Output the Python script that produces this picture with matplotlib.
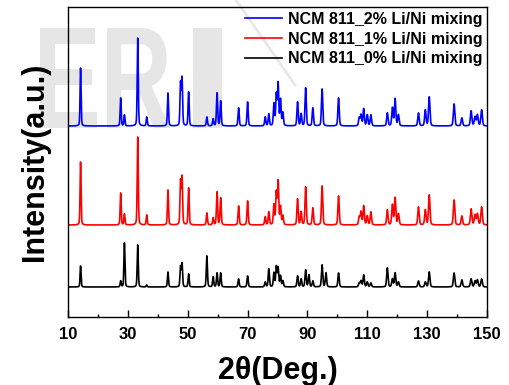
import numpy as np
import matplotlib
matplotlib.use("Agg")
import matplotlib.pyplot as plt
from matplotlib.textpath import TextPath
from matplotlib.patches import PathPatch
from matplotlib.font_manager import FontProperties
from matplotlib.lines import Line2D
import matplotlib.transforms as mtransforms

plt.rcParams['font.family'] = ['Liberation Sans', 'DejaVu Sans']

# peak positions (2theta, deg) and apparent peak heights (a.u.) for each sample
peak_pos = [14.2, 27.6, 28.85, 33.3, 36.3, 43.4, 47.6, 48.1, 50.3, 56.4,
            58.5, 59.8, 61.0, 67.0, 70.0, 75.9, 77.1, 78.8, 79.6, 80.2,
            81.0, 81.8, 86.7, 87.9, 89.4, 90.5, 91.8, 94.9, 96.2, 100.4,
            107.3, 107.9, 108.8, 110.0, 111.2, 116.7, 118.4, 119.3, 120.4, 127.1,
            129.4, 130.7, 139.0, 141.6, 144.7, 146.0, 146.8, 148.2]

mix_2 = [58, 28, 11, 88, 9, 33, 42, 47, 34, 9,
         7, 33, 25, 18, 24, 9, 12, 22, 31, 42,
         26, 13, 24, 12, 38, 0, 18, 37, 0, 28,
         8, 11, 17, 11, 11, 13, 18, 27, 11, 13,
         16, 29, 22, 8, 15, 9, 11, 16]

mix_1 = [63, 32, 11, 88, 10, 35, 43, 47, 37, 12,
         7, 33, 27, 19, 24, 8, 13, 20, 32, 43,
         18, 9, 26, 13, 38, 0, 17, 39, 0, 29,
         8, 13, 19, 9, 13, 15, 20, 27, 11, 18,
         15, 30, 25, 9, 16, 10, 11, 18]

mix_0 = [21, 6, 44, 42, 2, 15, 20, 23, 13, 31,
         10, 14, 14, 8, 11, 5, 18, 14, 20, 19,
         11, 6, 11, 8, 17, 12, 6, 22, 14, 14,
         4, 6, 12, 5, 4, 19, 8, 14, 5, 6,
         5, 15, 14, 7, 8, 6, 7, 8]

labels = ['NCM 811_2% Li/Ni mixing', 'NCM 811_1% Li/Ni mixing', 'NCM 811_0% Li/Ni mixing']
colors = ['#0000ff', '#ff0000', '#000000']
offsets = [191, 92, 30]


def pattern(tt, heights):
    # pseudo-Voigt peaks: sharp tops, slightly broad feet
    y = np.zeros_like(tt)
    for p, h in zip(peak_pos, heights):
        w = 0.36 + 0.0015 * p
        d = (tt - p) / w
        g = np.exp(-4 * np.log(2) * d ** 2)
        lz = 1 / (1 + 4 * d ** 2)
        y += h * (0.7 * g + 0.3 * lz)
    return y


tt = np.linspace(10, 150, 8000)

fig = plt.figure(figsize=(5.09, 3.85), dpi=100)
ax = fig.add_axes([68 / 509, 1 - 317 / 385, (487 - 68) / 509, (317 - 7) / 385])

# faint watermark behind the data
wm_prop = FontProperties(family='Liberation Sans', weight='bold')
for ch, (x0, x1) in zip('ERI', [(40, 97), (107, 170), (193, 222)]):
    tp = TextPath((0, 0), ch, size=100, prop=wm_prop)
    ext = tp.get_extents()
    tr = (mtransforms.Affine2D()
          .translate(-ext.x0, -ext.y0)
          .scale((x1 - x0) / ext.width, 100 / ext.height)
          .translate(x0, 385 - 128))
    ax.add_patch(PathPatch(tr.transform_path(tp), facecolor='#e6e6e6',
                           edgecolor='none', transform=mtransforms.IdentityTransform(),
                           clip_on=False, zorder=0.5))
ax.add_line(Line2D([236, 295], [385, 385 - 85], color='#e8e8e8', lw=2,
                   transform=mtransforms.IdentityTransform(), clip_on=False, zorder=0.5))

for heights, lab, c, off in zip([mix_2, mix_1, mix_0], labels, colors, offsets):
    ax.plot(tt, pattern(tt, heights) + off, color=c, lw=1.2, label=lab, zorder=2)

ax.set_xlim(10, 150)
ax.set_ylim(0, 310)
ax.set_xticks(np.arange(10, 151, 20))
ax.set_xticks(np.arange(20, 150, 20), minor=True)
ax.set_yticks([])
ax.tick_params(axis='x', which='major', direction='in', length=5, width=1, pad=7,
               labelsize=12)
ax.tick_params(axis='x', which='minor', direction='in', length=2.5, width=1)
for lab in ax.get_xticklabels():
    lab.set_fontweight('bold')
for s in ax.spines.values():
    s.set_linewidth(1.0)

ax.set_xlabel('2\u03b8(Deg.)', fontsize=22, fontweight='bold', labelpad=10)
ax.set_ylabel('Intensity(a.u.)', fontsize=22, fontweight='bold', labelpad=13)

ax.legend(loc='upper right', frameon=False, prop={'weight': 'bold', 'size': 11.5},
          handlelength=2.3, handletextpad=0.35, labelspacing=0.3,
          borderaxespad=0.1, borderpad=0.2)

fig.savefig('out.png', dpi=100)
